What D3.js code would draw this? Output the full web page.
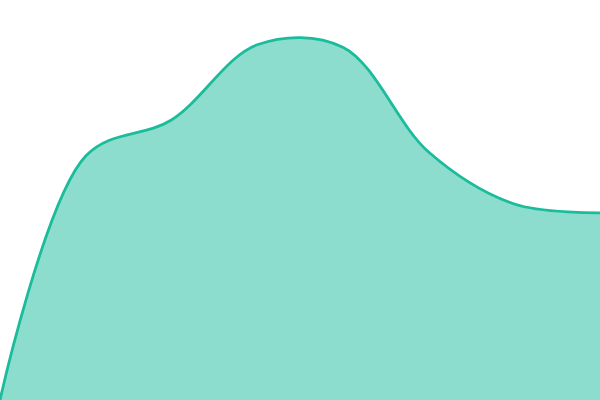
<!DOCTYPE html>
<html>
<head>
<meta charset="utf-8">
<script src="https://cdn.jsdelivr.net/npm/d3@7"></script>
<style>
  body { margin: 0; background: #fff; }
  svg { display: block; }
</style>
</head>
<body>
<svg id="chart" width="600" height="400"></svg>
<script>
const steps = [0, 1, 2, 3, 4, 5, 6, 7];
const values = [0, 61, 70, 88.8, 88.2, 62, 49, 46.8];

const svg = d3.select("#chart");
const width = +svg.attr("width");
const height = +svg.attr("height");

const x = d3.scaleLinear()
  .domain(d3.extent(steps))
  .range([0, width]);

const y = d3.scaleLinear()
  .domain([0, 100])
  .range([height, 0]);

const points = steps.map((s, i) => ({ s, v: values[i] }));
const curve = d3.curveCatmullRom.alpha(0.5);

const area = d3.area()
  .x(d => x(d.s))
  .y0(height)
  .y1(d => y(d.v))
  .curve(curve);

const line = d3.line()
  .x(d => x(d.s))
  .y(d => y(d.v))
  .curve(curve);

svg.append("path")
  .datum(points)
  .attr("d", area)
  .attr("fill", "#1abc9c")
  .attr("fill-opacity", 0.5);

svg.append("path")
  .datum(points)
  .attr("d", line)
  .attr("fill", "none")
  .attr("stroke", "#1abc9c")
  .attr("stroke-width", 2.8);
</script>
</body>
</html>
